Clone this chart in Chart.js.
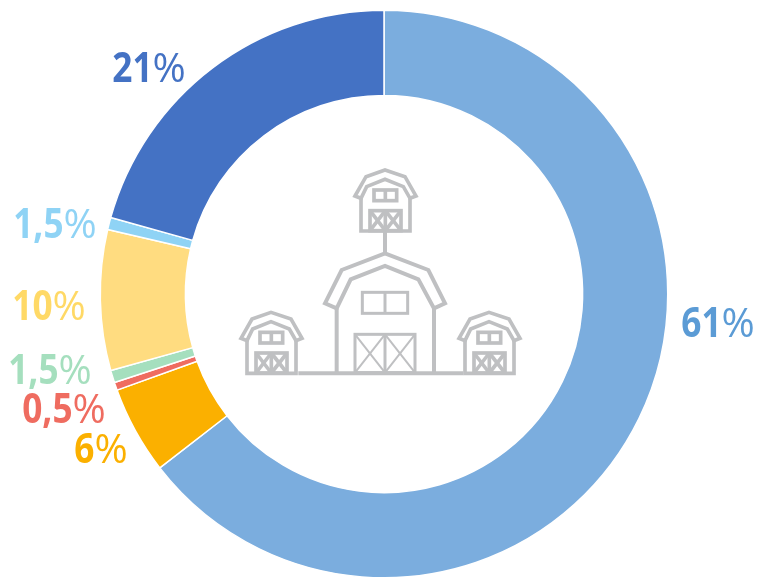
<!DOCTYPE html>
<html><head><meta charset="utf-8">
<style>html,body{margin:0;padding:0;background:#fff;overflow:hidden}#w{width:758px;height:577px;position:relative;overflow:hidden}canvas{display:block}</style>
<script src="https://cdn.jsdelivr.net/npm/chart.js@4"></script></head>
<body><div id="w"><canvas id="c" width="758" height="590"></canvas></div>
<script>
const categories = ['A','B','C','D','E','F','G'];
const sliceValues = [64.5,5.0,0.45,0.7,8.0,0.7,20.65];
const sliceLabels = ['61%','6%','0,5%','1,5%','10%','1,5%','21%'];
const sliceColors = ['#7BADDE','#FBB000','#EF6C60','#A5DFBE','#FFDC80','#8FD3F5','#4472C4'];
const labelColors = ['#5B9BD5','#FBB000','#EF6C60','#A5DFBE','#FFD966','#8FD3F5','#4472C4'];
const labelPos = [[718,322],[101,448],[64,408],[50,369],[49,305],[55,223],[149,67]];

const labelPlugin = {id:'labels',afterDraw(chart){
  const ctx = chart.ctx; ctx.save();
  ctx.textAlign='left'; ctx.textBaseline='alphabetic';
  const fd='700 41px "Open Sans"', fp='500 41px "Open Sans"', sd=0.86, sp=0.98, base=15;
  sliceLabels.forEach((t,i)=>{
    const d=t.slice(0,-1);
    ctx.font=fd;const wd=ctx.measureText(d).width*sd;
    ctx.font=fp;const wp=ctx.measureText('%').width*sp;
    const x0=labelPos[i][0]-(wd+wp)/2, y0=labelPos[i][1]+base;
    ctx.fillStyle=labelColors[i];
    ctx.save();ctx.translate(x0,y0);ctx.scale(sd,1);ctx.font=fd;ctx.fillText(d,0,0);ctx.restore();
    ctx.save();ctx.translate(x0+wd,y0);ctx.scale(sp,1);ctx.font=fp;ctx.fillText('%',0,0);ctx.restore();
  });
  ctx.restore();
}};

function poly(ctx,pts,close){ctx.beginPath();pts.forEach((p,i)=>i?ctx.lineTo(p[0],p[1]):ctx.moveTo(p[0],p[1]));if(close)ctx.closePath();ctx.stroke();}
function smallBarn(ctx,dx,dy){
  ctx.save();ctx.translate(dx,dy);ctx.lineWidth=11;
  poly(ctx,[[375,108],[408,50],[465,30],[525,50],[558,108],[540,115],[520,80],[465,58],[410,80],[393,115]],true);
  poly(ctx,[[393,115],[393,213],[540,213],[540,115]]);
  ctx.strokeRect(432,90,68,32);poly(ctx,[[466,90],[466,122]]);
  ctx.strokeRect(420,152,93,60);poly(ctx,[[466,152],[466,212]]);
  poly(ctx,[[420,152],[466,212]]);poly(ctx,[[466,152],[420,212]]);
  poly(ctx,[[466,152],[513,212]]);poly(ctx,[[513,152],[466,212]]);
  ctx.restore();
}
const barnPlugin = {id:'barn',afterDraw(chart){
  const ctx = chart.ctx; ctx.save();
  ctx.translate(230,160);ctx.scale(1/3,1/3);
  ctx.strokeStyle='#BFC0C2';ctx.lineJoin='miter';ctx.lineWidth=12;
  smallBarn(ctx,0,0);smallBarn(ctx,-342,427);smallBarn(ctx,312,427);
  poly(ctx,[[465,215],[465,280]]);
  poly(ctx,[[285,430],[335,330],[465,280],[595,330],[645,430],[612,445],[565,358],[465,318],[362,358],[320,445]],true);
  poly(ctx,[[320,445],[320,640]]);poly(ctx,[[612,445],[612,640]]);
  poly(ctx,[[205,640],[700,640]]);
  ctx.lineWidth=9;
  ctx.strokeRect(397,397,136,63);poly(ctx,[[465,397],[465,460]]);
  ctx.strokeRect(375,523,180,115);poly(ctx,[[465,523],[465,638]]);
  ctx.lineWidth=6;
  poly(ctx,[[375,523],[465,638]]);poly(ctx,[[465,523],[375,638]]);
  poly(ctx,[[465,523],[555,638]]);poly(ctx,[[555,523],[465,638]]);
  ctx.restore();
}};

new Chart(document.getElementById('c'),{
  type:'doughnut',
  data:{labels:categories,datasets:[{data:sliceValues,backgroundColor:sliceColors,borderColor:'#fff',borderWidth:1.5,hoverOffset:0}]},
  options:{responsive:false,animation:false,cutout:'70%',
    layout:{padding:{left:99.5,right:89.5,top:9.5,bottom:11.5}},
    plugins:{legend:{display:false},tooltip:{enabled:false}}},
  plugins:[labelPlugin,barnPlugin]
});
</script></body></html>
